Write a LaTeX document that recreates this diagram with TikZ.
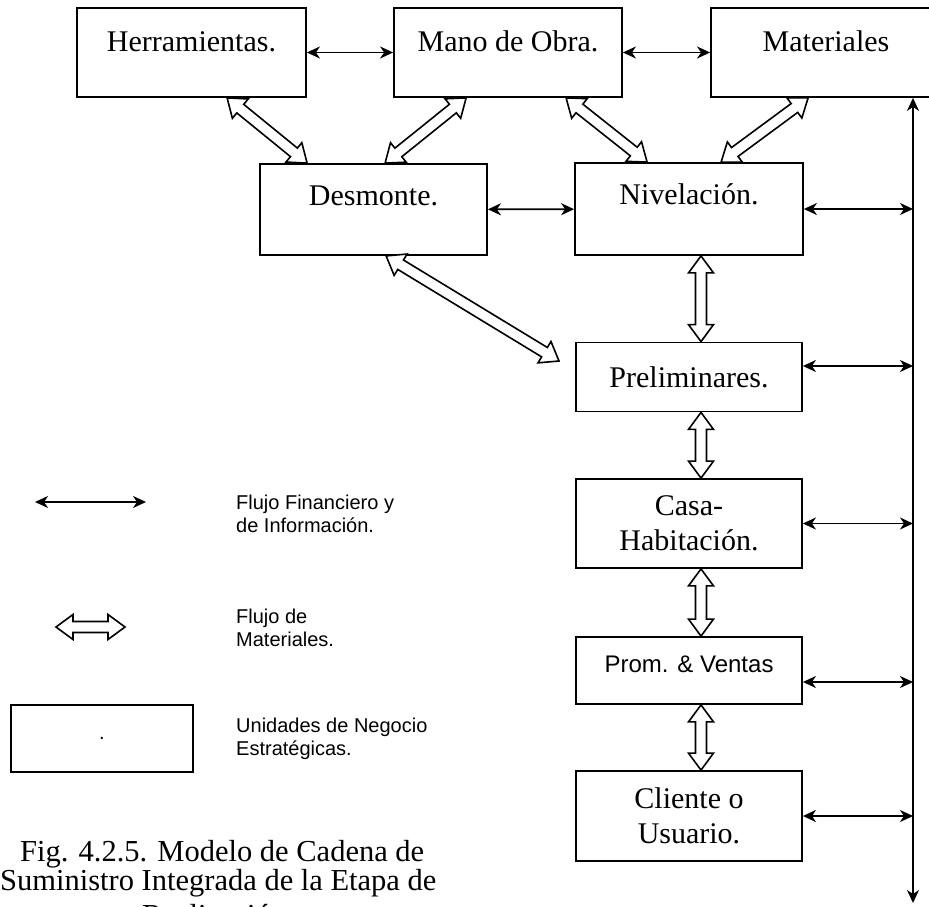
\documentclass[tikz,border=0pt]{standalone}
\usepackage{fontspec}
\setmainfont{Liberation Serif}
\setsansfont{Liberation Sans}
\usetikzlibrary{calc,arrows.meta}

% sizes of the hollow (material flow) double arrows
\newcommand\fahl{17pt}   % head length
\newcommand\fahw{12.5pt} % half width of the head
\newcommand\fasw{5.5pt}  % half width of the shaft

% hollow double arrow from #1 to #2
\newcommand\fatarrow[2]{%
  \coordinate (faA) at ($(#1)!\fahl!(#2)$);
  \coordinate (faB) at ($(#2)!\fahl!(#1)$);
  \draw[fat] (#1)
    -- ($(faA)!\fahw!-90:(#2)$) -- ($(faA)!\fasw!-90:(#2)$)
    -- ($(faB)!\fasw!90:(#1)$)  -- ($(faB)!\fahw!90:(#1)$)
    -- (#2)
    -- ($(faB)!\fahw!-90:(#1)$) -- ($(faB)!\fasw!-90:(#1)$)
    -- ($(faA)!\fasw!90:(#2)$)  -- ($(faA)!\fahw!90:(#2)$)
    -- cycle;}

\begin{document}
\begin{tikzpicture}[x=1pt,y=-1pt,
  unit/.style={draw, line width=1.8pt, inner sep=0pt, align=center,
               font=\fontsize{30}{35}\selectfont},
  raised/.style={text height=20pt, text depth=#1},
  info/.style={line width=1.8pt, {Stealth[length=13pt,width=12pt,inset=4pt]}-{Stealth[length=13pt,width=12pt,inset=4pt]}},
  fat/.style={draw, line width=1.6pt, fill=white, line join=miter},
  legend/.style={font=\sffamily\fontsize{20}{23}\selectfont, align=left,
                 anchor=west, inner sep=0pt},
  caption/.style={font=\fontsize{30.5}{30}\selectfont, inner sep=0pt, anchor=base west}]

\useasboundingbox (0,0) rectangle (929,907);

% resources
\node[unit, minimum width=229pt, minimum height=89pt, raised=21pt] (herr) at (191.5,52.5) {Herramientas.};
\node[unit, minimum width=228pt, minimum height=89pt, raised=21pt] (mano) at (508,52.5) {Mano de Obra.};
\node[unit, minimum width=230pt, minimum height=89pt, raised=21pt] (mat)  at (826,52.5) {Materiales};

% site preparation
\node[unit, minimum width=227pt, minimum height=91pt, raised=29pt] (desm)  at (373.5,209.5) {Desmonte.};
\node[unit, minimum width=228pt, minimum height=92pt, raised=29pt] (nivel) at (689,209) {Nivelación.};

% stages towards the customer
\node[unit, minimum width=226pt, minimum height=69pt] (prel) at (689,377) {Preliminares.};
\node[unit, minimum width=226pt, minimum height=89pt] (casa) at (689,523.5) {Casa-\\Habitación.};
\node[unit, minimum width=226pt, minimum height=67pt, font=\sffamily\fontsize{24}{28}\selectfont,
      text height=17pt, text depth=14pt] (prom) at (689,670.5) {Prom. \& Ventas};
\node[unit, minimum width=226pt, minimum height=90pt] (cli) at (689,816) {Cliente o\\Usuario.};

% information bus on the right
\coordinate (busx) at (913,0);
\coordinate (bustop) at (mat.south -| busx);
\coordinate (busbot) at (913,903);
\draw[info] (bustop) -- (busbot);

% connection points of the stages on the bus side
\coordinate (pe) at ($(prel.east)+(0,-11)$);
\coordinate (re) at ($(prom.east)+(0,11.5)$);

% financial / information links
\draw[info] (herr) -- (mano);
\draw[info] (mano) -- (mat);
\draw[info] (desm) -- (nivel);
\draw[info] (nivel.east) -- (nivel.east -| busx);
\draw[info] (pe) -- (pe -| busx);
\draw[info] (casa.east) -- (casa.east -| busx);
\draw[info] (re) -- (re -| busx);
\draw[info] (cli.east) -- (cli.east -| busx);

% material flows between resources and site preparation
\coordinate (h1) at ($(herr.south west)+(151,0)$);
\coordinate (d1) at ($(desm.north west)+(48,0)$);
\coordinate (m1) at ($(mano.south west)+(73,0)$);
\coordinate (d2) at ($(desm.north west)+(126,0)$);
\coordinate (m2) at ($(mano.south west)+(173,0)$);
\coordinate (n1) at ($(nivel.north west)+(73,0)$);
\coordinate (t1) at ($(mat.south west)+(98,0)$);
\coordinate (n2) at ($(nivel.north west)+(147,0)$);
\coordinate (d3) at ($(desm.south west)+(127,0)$);
\coordinate (p0) at (559,361);
\fatarrow{h1}{d1}
\fatarrow{m1}{d2}
\fatarrow{m2}{n1}
\fatarrow{t1}{n2}
\fatarrow{d3}{p0}

% material flows down the chain
\coordinate (vx) at (701,0);
\coordinate (a1) at (nivel.south -| vx);
\coordinate (a2) at (prel.north -| vx);
\coordinate (a3) at (prel.south -| vx);
\coordinate (a4) at (casa.north -| vx);
\coordinate (a5) at (casa.south -| vx);
\coordinate (a6) at (prom.north -| vx);
\coordinate (a7) at (prom.south -| vx);
\coordinate (a8) at (cli.north -| vx);
\fatarrow{a1}{a2}
\fatarrow{a3}{a4}
\fatarrow{a5}{a6}
\fatarrow{a7}{a8}

% legend
\coordinate (lfa) at (35,502);
\coordinate (lfb) at (146,502);
\draw[info] (lfa) -- (lfb);
\node[legend] (lt1) at (236,514) {Flujo Financiero y\\de Información.};

\coordinate (lma) at (56,627);
\coordinate (lmb) at (125,627);
\fatarrow{lma}{lmb}
\node[legend] (lt2) at (236,627.5) {Flujo de\\Materiales.};

\node[draw, line width=1.8pt, minimum width=182pt, minimum height=67pt, inner sep=0pt,
      font=\sffamily\fontsize{20}{23}\selectfont] (lbox) at (102,738.5) {.};
\node[legend] (lt3) at (236,738.5) {Unidades de Negocio\\Estratégicas.};

% caption
\node[caption] (cap1) at (20,861) {Fig. 4.2.5. Modelo de Cadena de};
\node[caption] (cap2) at (0,890) {Suministro Integrada de la Etapa de};
\node[caption] (cap3) at (142,925) {Realización.};

\end{tikzpicture}
\end{document}
